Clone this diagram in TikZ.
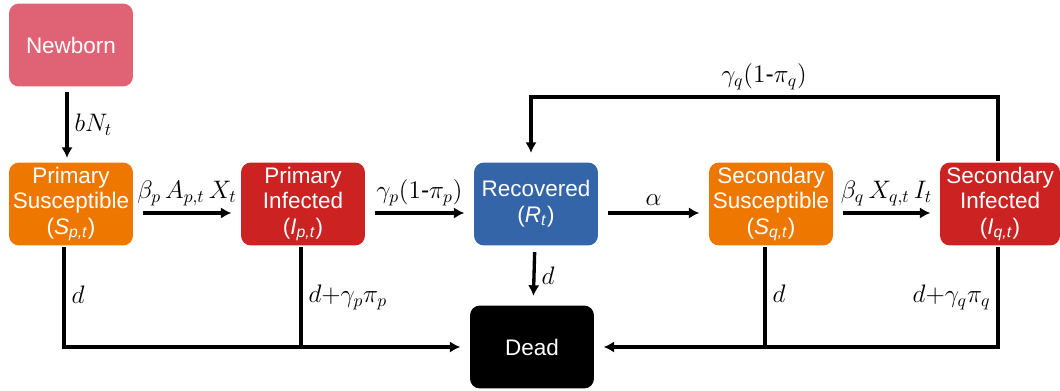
\documentclass[tikz,border=0pt]{standalone}
\usepackage{fontspec}
\setmainfont{Liberation Sans}
\usetikzlibrary{arrows.meta}
\definecolor{newborncol}{HTML}{E06375}
\definecolor{suscol}{HTML}{EE7700}
\definecolor{infcol}{HTML}{CC2222}
\definecolor{reccol}{HTML}{3465A8}
\begin{document}
\begin{tikzpicture}[x=0.02cm,y=-0.02cm,>={Latex[length=6pt,width=6.5pt]},line width=1.9pt,
    box/.style={rounded corners=0.2cm,minimum width=2.48cm,minimum height=1.66cm,
      inner sep=1pt,text=white,align=center,font=\fontsize{12.8}{14.7}\selectfont},
    lab/.style={font=\fontsize{14}{16}\selectfont},
    arr/.style={->,shorten >=0.16cm,shorten <=0.16cm}]
    \useasboundingbox (0,0) rectangle (1060,391);

    % compartments
    \node[box,fill=newborncol] (nb) at (71,45) {Newborn};
    \foreach \name/\x/\col/\txt in {
        ps/71/suscol/{Primary\\Susceptible\\(\textit{S}\textsubscript{\textit{p,t}})},
        pi/303/infcol/{Primary\\Infected\\(\textit{I}\textsubscript{\textit{p,t}})},
        rec/536/reccol/{Recovered\\(\textit{R}\textsubscript{\textit{t}})},
        ss/771/suscol/{Secondary\\Susceptible\\(\textit{S}\textsubscript{\textit{q,t}})}}
        \node[box,fill=\col] (\name) at (\x,204) {\txt};
    \node[box,fill=infcol,minimum width=2.4cm] (si) at (1000,204)
        {Secondary\\Infected\\(\textit{I}\textsubscript{\textit{q,t}})};
    \node[box,fill=black] (dead) at (532,347) {Dead};

    % births
    \draw[arr,shorten <=0.08cm,shorten >=0.06cm] ([xshift=-0.08cm]nb.south) -- ([xshift=-0.08cm]ps.north)
        node[lab,midway,right] {$bN_t$};

    % transitions along the chain
    \foreach \a/\b/\txt in {
        ps/pi/{$\beta_p\,A_{p,t}\,X_t$},
        pi/rec/{$\gamma_p(1\mbox{-}\pi_p)$},
        rec/ss/{$\alpha$},
        ss/si/{$\beta_q\,X_{q,t}\,I_t$}}
        \draw[arr] ([yshift=-0.18cm]\a.east) -- ([yshift=-0.18cm]\b.west)
            node[lab,midway,above] {\txt};

    % loss of immunity
    \coordinate (loop) at (764,97);
    \draw[->,shorten >=0.16cm] ([xshift=-0.04cm]si.north) |- (loop) node[lab,above] {$\gamma_q(1\mbox{-}\pi_q)$}
        -| ([xshift=-0.1cm]rec.north);

    % deaths
    \draw[arr,shorten <=0.1cm] (rec) -- (dead) node[lab,midway,right] {$d$};
    \draw[->,shorten >=0.16cm] ([xshift=-0.14cm]ps.south) |- (dead.west) node[lab,pos=0.24,right] {$d$};
    \draw ([xshift=-0.04cm]pi.south) -- ([xshift=-0.04cm]pi.south |- dead.west)
        node[lab,pos=0.5,right] {$d{+}\gamma_p\pi_p$};
    \draw[->,shorten >=0.16cm] ([xshift=-0.04cm]si.south) |- (dead.east) node[lab,pos=0.25,left] {$d{+}\gamma_q\pi_q$};
    \draw ([xshift=-0.12cm]ss.south) -- ([xshift=-0.12cm]ss.south |- dead.east) node[lab,pos=0.47,right] {$d$};
\end{tikzpicture}
\end{document}
